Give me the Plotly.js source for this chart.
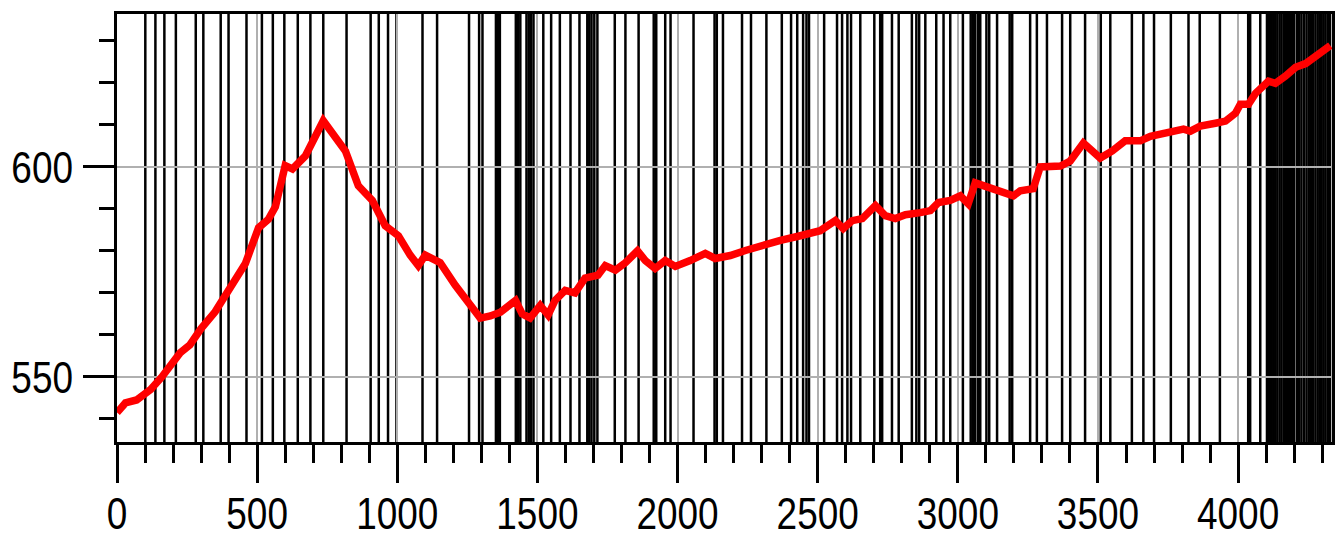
<!DOCTYPE html>
<html>
<head>
<meta charset="utf-8">
<script src="https://cdn.plot.ly/plotly-3.0.1.min.js"></script>
<style>html,body{margin:0;padding:0;background:#fff;}#chart{width:1339px;height:538px;}</style>
</head>
<body>
<div id="chart"></div>
<script>
// Event markers (x positions of vertical lines)
const eventX = [101, 137, 169, 210, 281, 308, 370, 398, 462, 517, 556, 597, 645, 690, 736, 819, 905, 934, 967, 997,
  1090, 1142, 1256, 1292, 1304, 1352, 1360, 1366, 1423, 1431, 1439, 1461, 1469, 1477, 1486, 1521, 1549, 1580, 1618, 1650,
  1678, 1685, 1693, 1703, 1714, 1776, 1814, 1861, 1915, 1924, 1956, 1975, 2057, 2132, 2140, 2162, 2230, 2262, 2317, 2372,
  2405, 2427, 2448, 2460, 2469, 2523, 2569, 2587, 2606, 2619, 2652, 2702, 2723, 2730, 2765, 2789, 2836, 2852, 2862, 2884,
  2923, 2949, 2973, 3018, 3046, 3054, 3062, 3072, 3080, 3102, 3112, 3140, 3185, 3194, 3258, 3282, 3318, 3372, 3401, 3454,
  3510, 3544, 3621, 3662, 3700, 3760, 3823, 3863, 3935, 4036, 4043, 4079,
  4103, 4108, 4113, 4120, 4127, 4133, 4140, 4148, 4155, 4163, 4170, 4178, 4185, 4192, 4200, 4210, 4218, 4226, 4235, 4244,
  4252, 4260, 4268, 4276, 4284, 4292, 4298, 4305, 4312, 4320, 4328];

// Red series
const seriesX = [0, 30, 70, 120, 160, 190, 225, 260, 300, 350, 405, 458, 505, 540, 565, 600, 626, 672, 736,
  815, 861, 911, 957, 1004, 1046, 1075, 1100, 1153, 1207, 1254, 1296, 1332, 1368, 1422, 1446, 1474, 1510, 1538, 1563,
  1599, 1634, 1670, 1716, 1742, 1778, 1814, 1857, 1885, 1920, 1956, 1992, 2045, 2099, 2134, 2188, 2242, 2295, 2367,
  2438, 2509, 2563, 2591, 2623, 2659, 2706, 2741, 2777, 2813, 2866, 2902, 2931, 2973, 3009, 3037, 3062, 3098, 3152,
  3198, 3223, 3269, 3294, 3366, 3401, 3448, 3508, 3551, 3597, 3651, 3687, 3740, 3776, 3805, 3830, 3865, 3919, 3955,
  3991, 4008, 4037, 4062, 4108, 4133, 4169, 4205, 4241, 4276, 4312, 4329];
const seriesY = [541.5, 543.8, 544.5, 547, 550, 552.8, 555.7, 557.6, 561.5, 565.5, 571, 577, 585.5, 587.5, 590.5, 600.3, 599.5, 602.6, 611,
  603.8, 595.5, 592, 586, 583.6, 579, 576.5, 579, 577.2, 571.8, 567.8, 564, 564.5, 565.4, 568.2, 565, 564, 567, 564.7, 568.2,
  570.6, 570, 573.5, 574.2, 576.5, 575.4, 577.2, 580, 577.7, 575.8, 577.7, 576.3, 577.7, 579.4, 578.2, 578.9, 580.1, 581.3, 582.5,
  583.6, 584.8, 587.2, 585.3, 587.2, 587.7, 590.8, 588.4, 587.7, 588.6, 589.1, 589.6, 591.5, 592, 593.1, 591.2, 596.2, 595.5, 594.3,
  593.1, 594.3, 594.8, 600, 600.2, 601.4, 605.7, 602.1, 603.8, 606.2, 606.2, 607.3, 608.1, 608.5, 609, 608.5, 609.7, 610.4, 610.9,
  612.8, 614.9, 614.9, 617.5, 620.4, 619.9, 621.6, 623.7, 624.6, 626.3, 628, 628.9];

const xTickVals = [0, 500, 1000, 1500, 2000, 2500, 3000, 3500, 4000];
const yTickVals = [550, 600];

const FONT = '"Liberation Sans", Arial, sans-serif';
const FS = 44;
const SX = 0.84; // horizontal condensation of tick labels

const shapes = eventX.map(x => ({
  type: 'line', xref: 'x', yref: 'paper', x0: x, x1: x, y0: 0, y1: 1,
  line: {color: '#000', width: 2.5}, layer: 'between'
}));

const traces = [{
  x: seriesX, y: seriesY, type: 'scatter', mode: 'lines',
  line: {color: '#ff0000', width: 7.5}, hoverinfo: 'skip'
}];

const layout = {
  width: 1339, height: 538,
  margin: {l: 117, r: 7, t: 14, b: 96},
  paper_bgcolor: '#fff', plot_bgcolor: '#fff',
  showlegend: false,
  shapes: shapes,
  font: {family: FONT, color: '#000', size: FS},
  xaxis: {
    range: [0, 4335], tickmode: 'array', tickvals: xTickVals,
    ticks: 'outside', ticklen: 38, tickwidth: 3, tickcolor: '#000',
    showline: true, linecolor: '#000', linewidth: 3, mirror: true,
    showgrid: true, gridcolor: '#b0b0b0', gridwidth: 2, zeroline: false,
    tickfont: {family: FONT, size: FS, color: '#000'},
    ticklabelstandoff: 2,
    minor: {dtick: 100, tick0: 0, ticks: 'outside', ticklen: 18, tickwidth: 3, tickcolor: '#000', showgrid: false}
  },
  yaxis: {
    range: [534.5, 636.4], tickmode: 'array', tickvals: yTickVals,
    ticks: 'outside', ticklen: 31, tickwidth: 3, tickcolor: '#000',
    showline: true, linecolor: '#000', linewidth: 3, mirror: true,
    showgrid: true, gridcolor: '#b0b0b0', gridwidth: 2, zeroline: false,
    tickfont: {family: FONT, size: FS, color: '#000'},
    ticklabelstandoff: 2,
    minor: {dtick: 10, tick0: 0, ticks: 'outside', ticklen: 15, tickwidth: 3, tickcolor: '#000', showgrid: false}
  }
};

function condenseLabels(gd) {
  const fl = gd._fullLayout;
  const sz = fl._size;
  const ns = 'http://www.w3.org/2000/svg';
  const descent = 0.212 * FS;
  gd.querySelectorAll('.xtick text, .ytick text').forEach(t => {
    if (t.parentNode.getAttribute('class') === 'cond') return;
    const r = t.getBoundingClientRect();
    const isY = !!t.closest('.ytick');
    const val = Number(t.textContent);
    const baseline = r.bottom - descent;
    let ax, dx = 0, dy = 0;
    if (isY) {
      ax = r.right;
      const tickPx = sz.t + fl.yaxis.l2p(val);
      const targetBaseline = tickPx + 0.358 * FS;
      dy = targetBaseline - baseline;
      dx = 73 - r.right;
    } else {
      ax = (r.left + r.right) / 2;
      dy = 528.5 - baseline;
    }
    const g = document.createElementNS(ns, 'g');
    g.setAttribute('class', 'cond');
    g.setAttribute('transform', 'translate(' + (ax + dx) + ',' + dy + ') scale(' + SX + ',1) translate(' + (-ax) + ',0)');
    t.parentNode.insertBefore(g, t);
    g.appendChild(t);
  });
}

Plotly.newPlot('chart', traces, layout, {staticPlot: true, displayModeBar: false}).then(gd => condenseLabels(gd));
</script>
</body>
</html>
